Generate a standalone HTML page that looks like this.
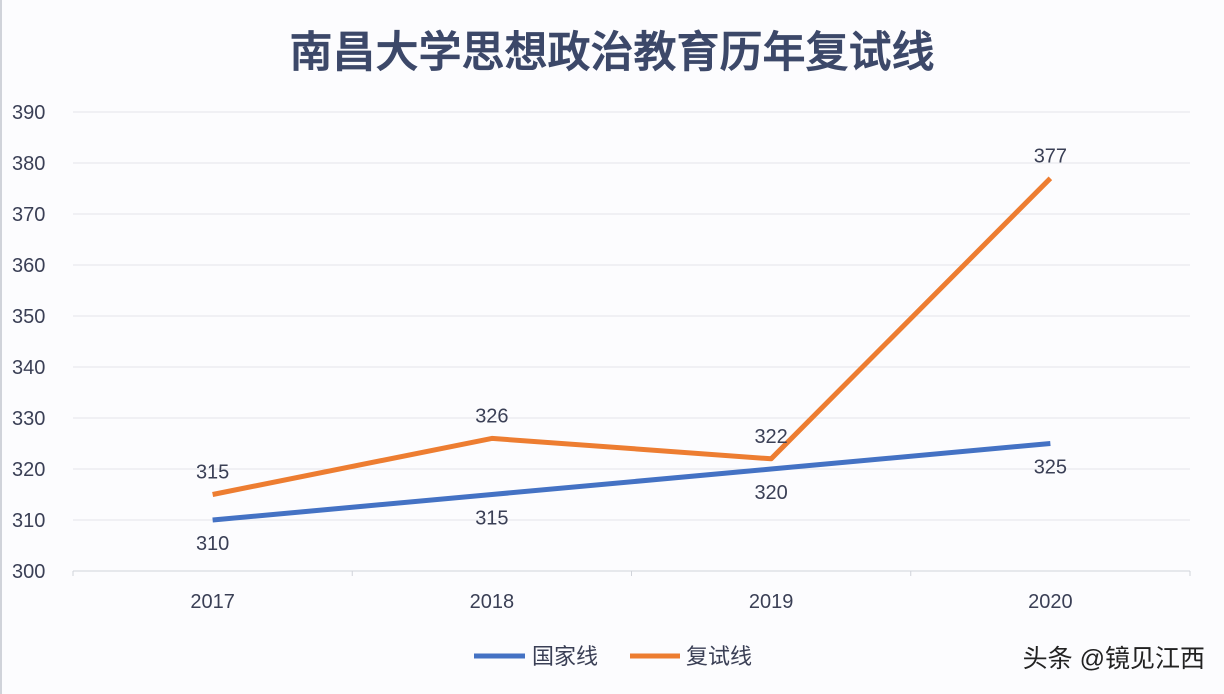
<!DOCTYPE html>
<html><head><meta charset="utf-8"><style>
html,body{margin:0;padding:0;background:#fcfcfe;}
svg{display:block;font-family:"Liberation Sans","Noto Sans CJK SC",sans-serif;}
</style></head><body>
<svg id="chart" width="1224" height="694">
<rect x="0" y="0" width="1224" height="694" fill="#fcfcfe"/>
<line x1="1" y1="0" x2="1" y2="694" stroke="#d0d3da" stroke-width="2"/>
<text x="612" y="67" text-anchor="middle" font-size="43" font-weight="500" fill="#3c4869" stroke="#3c4869" stroke-width="0.8">南昌大学思想政治教育历年复试线</text>
<g id="grid"></g><g id="series"></g>
<g>
<line x1="474" y1="656" x2="525" y2="656" stroke="#4472c4" stroke-width="5"/>
<text x="532" y="664" font-size="22" fill="#3a3f55">国家线</text>
<line x1="630" y1="656" x2="680" y2="656" stroke="#ed7d31" stroke-width="5"/>
<text x="686" y="664" font-size="22" fill="#3a3f55">复试线</text>
</g>
<text x="1205" y="667" text-anchor="end" font-size="25" fill="#222">头条 @镜见江西</text>
</svg>
<script>
const categories=["2017","2018","2019","2020"];
const nationalLine=[310,315,320,325];
const retestLine=[315,326,322,377];
const yTicks=[300,310,320,330,340,350,360,370,380,390];
const NS="http://www.w3.org/2000/svg";
const x0=73,x1=1190,y0=571,yTop=112,ymin=300,ymax=390;
const bw=(x1-x0)/categories.length;
function xs(i){return x0+bw*(i+0.5);}
function ys(v){return y0-(v-ymin)/(ymax-ymin)*(y0-yTop);}
function mk(tag,attrs,parent,text){const e=document.createElementNS(NS,tag);for(const k in attrs)e.setAttribute(k,attrs[k]);if(text!==undefined)e.textContent=text;parent.appendChild(e);return e;}
const grid=document.getElementById('grid'),ser=document.getElementById('series');
yTicks.forEach(t=>{
 const l=mk('line',{x1:x0,x2:x1,y1:ys(t),y2:ys(t),stroke:t===ymin?'#d0d3da':'#e3e5ea','stroke-width':1},grid);
 
 
 const tx=mk('text',{x:12,y:ys(t)+7,'font-size':20,fill:'#3a3f55'},grid,String(t));
 
 
});
for(let i=0;i<=categories.length;i++){
 const tk=mk('line',{x1:x0+bw*i,x2:x0+bw*i,y1:y0,y2:y0+5,stroke:'#d0d3da'},grid);
 
 
}
categories.forEach((c,i)=>{
 const tx=mk('text',{x:xs(i),y:608,'text-anchor':'middle','font-size':20,fill:'#3a3f55'},grid,c);
 
 
});
function draw(vals,color,name,above){
 const p=mk('polyline',{points:vals.map((v,i)=>xs(i)+','+ys(v)).join(' '),fill:'none',stroke:color,'stroke-width':5,'stroke-linejoin':'round'},ser);
 
 
 vals.forEach((v,i)=>{
  const up=above(i);
  const t=mk('text',{x:xs(i),y:up?ys(v)-16:ys(v)+30,'text-anchor':'middle','font-size':20,fill:'#3a3f55'},ser,String(v));
  
  
 });
}
draw(nationalLine,'#4472c4','national',()=>false);
draw(retestLine,'#ed7d31','retest',()=>true);
</script>
</body></html>
